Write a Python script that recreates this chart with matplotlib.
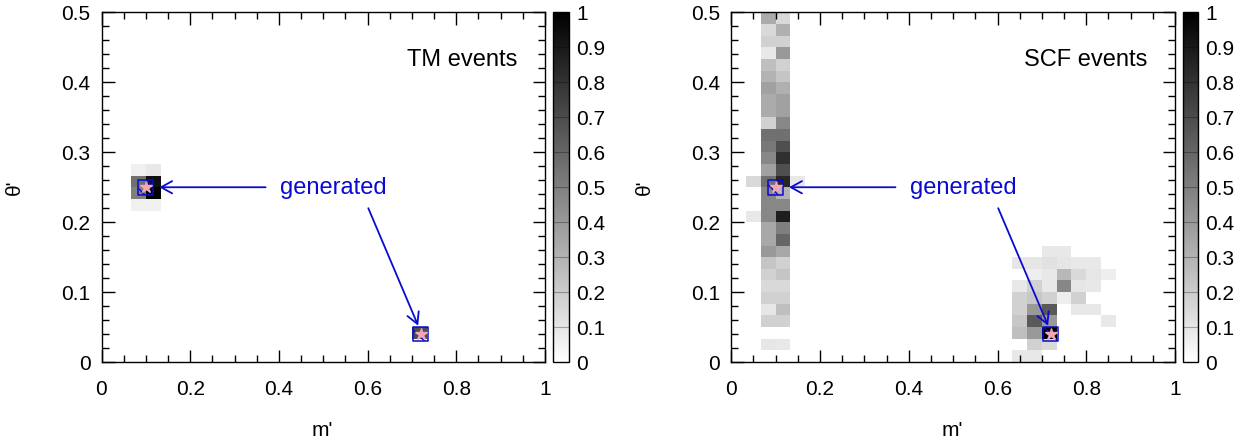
import numpy as np
import matplotlib
matplotlib.use("Agg")
import matplotlib.pyplot as plt
from matplotlib.patches import ArrowStyle

plt.rcParams['font.family'] = ['Liberation Sans', 'DejaVu Sans']
plt.rcParams['hatch.linewidth'] = 1.0
plt.rcParams['hatch.color'] = '#0000cc'

# ---------------- data ----------------
m_edges = np.linspace(0.0, 1.0, 31)
theta_edges = np.linspace(0.0, 0.5, 31)

# TM events: normalised bin contents (bin centres m', theta', value)
tm_m = [0.0833, 0.1167, 0.0833, 0.1167, 0.0833, 0.1167, 0.0833, 0.1167, 0.7167]
tm_theta = [0.275, 0.275, 0.2583, 0.2583, 0.2417, 0.2417, 0.225, 0.225, 0.0417]
tm_val = [0.06, 0.09, 0.56, 0.94, 0.50, 1.00, 0.06, 0.06, 0.70]

# SCF events: column near m'=0.1 (rows 0..29, two bins)
scf_col_theta = [(r + 0.5) / 60 for r in range(30)]
scf_col_a = [0.00, 0.10, 0.00, 0.18, 0.10, 0.18, 0.15, 0.18, 0.23, 0.40,
             0.34, 0.34, 0.47, 0.47, 0.47, 0.56, 0.37, 0.47, 0.53, 0.56,
             0.18, 0.33, 0.33, 0.37, 0.30, 0.25, 0.09, 0.18, 0.15, 0.33]
scf_col_b = [0.00, 0.09, 0.00, 0.18, 0.25, 0.18, 0.15, 0.23, 0.18, 0.34,
             0.60, 0.50, 0.88, 0.47, 0.30, 0.85, 0.69, 0.81, 0.69, 0.56,
             0.47, 0.37, 0.37, 0.31, 0.23, 0.18, 0.40, 0.18, 0.31, 0.15]
scf_col_m_a = 0.0833
scf_col_m_b = 0.1167
# SCF events: isolated bins
scf_m = [0.05, 0.15, 0.05,
         0.7167, 0.75,
         0.65, 0.6833, 0.7167, 0.75, 0.7833, 0.8167,
         0.6833, 0.7167, 0.75, 0.7833, 0.8167, 0.85,
         0.65, 0.6833, 0.7167, 0.75, 0.7833, 0.8167,
         0.65, 0.6833, 0.7167, 0.75, 0.7833,
         0.65, 0.6833, 0.7167, 0.7833, 0.8167,
         0.65, 0.6833, 0.7167, 0.85,
         0.65, 0.6833, 0.7167,
         0.6833, 0.7167,
         0.65, 0.6833]
scf_theta = [0.2583, 0.2583, 0.2083,
             0.1583, 0.1583,
             0.1417, 0.1417, 0.1417, 0.1417, 0.1417, 0.1417,
             0.125, 0.125, 0.125, 0.125, 0.125, 0.125,
             0.1083, 0.1083, 0.1083, 0.1083, 0.1083, 0.1083,
             0.0917, 0.0917, 0.0917, 0.0917, 0.0917,
             0.075, 0.075, 0.075, 0.075, 0.075,
             0.0583, 0.0583, 0.0583, 0.0583,
             0.0417, 0.0417, 0.0417,
             0.025, 0.025,
             0.0083, 0.0083]
scf_val = [0.15, 0.09, 0.09,
           0.09, 0.09,
           0.10, 0.10, 0.12, 0.10, 0.09, 0.09,
           0.07, 0.09, 0.28, 0.15, 0.10, 0.07,
           0.09, 0.18, 0.09, 0.47, 0.10, 0.09,
           0.18, 0.22, 0.18, 0.07, 0.18,
           0.18, 0.40, 0.65, 0.09, 0.09,
           0.22, 0.65, 0.40, 0.09,
           0.25, 0.40, 1.00,
           0.18, 0.15,
           0.09, 0.09]

# generated points
gen_m = [0.10, 0.72]
gen_theta = [0.25, 0.04]

panel_titles = ['TM events', 'SCF events']
cbar_ticks = [0, 0.1, 0.2, 0.3, 0.4, 0.5, 0.6, 0.7, 0.8, 0.9, 1.0]
cbar_labels = ['0', '0.1', '0.2', '0.3', '0.4', '0.5', '0.6', '0.7', '0.8', '0.9', '1']

# ---------------- build grids ----------------
H_tm, _, _ = np.histogram2d(tm_m, tm_theta, bins=[m_edges, theta_edges], weights=tm_val)
all_m = scf_m + [scf_col_m_a] * 30 + [scf_col_m_b] * 30
all_t = scf_theta + scf_col_theta + scf_col_theta
all_v = scf_val + scf_col_a + scf_col_b
H_scf, _, _ = np.histogram2d(all_m, all_t, bins=[m_edges, theta_edges], weights=all_v)

# ---------------- figure ----------------
fig = plt.figure(figsize=(12.46, 4.44), dpi=100)
W, Hh = 1246.0, 444.0
axes_px = [(101.5, 545.0), (731.3, 1175.0)]
cbar_px = [(553.3, 569.3), (1182.7, 1198.3)]
y_top, y_bot = 12.5, 362.0

blue = '#0a0ad2'
arrow_style = ArrowStyle('->', head_length=0.4, head_width=0.22)

for k, (H, title) in enumerate(zip([H_tm, H_scf], panel_titles)):
    x0, x1 = axes_px[k]
    ax = fig.add_axes([x0 / W, 1 - y_bot / Hh, (x1 - x0) / W, (y_bot - y_top) / Hh])
    mesh = ax.pcolormesh(m_edges, theta_edges, H.T, cmap='gray_r', vmin=0, vmax=1,
                         shading='flat')
    ax.set_xlim(0, 1)
    ax.set_ylim(0, 0.5)
    ax.set_xticks(np.arange(0, 1.01, 0.2))
    ax.set_xticks(np.arange(0, 1.001, 0.05), minor=True)
    ax.set_yticks(np.arange(0, 0.501, 0.1))
    ax.set_yticks(np.arange(0, 0.501, 0.02), minor=True)
    ax.set_xticklabels(['0', '0.2', '0.4', '0.6', '0.8', '1'])
    ax.set_yticklabels(['0', '0.1', '0.2', '0.3', '0.4', '0.5'])
    ax.tick_params(which='both', direction='in', top=True, right=True,
                   labelsize=15, width=1.0, color='black')
    ax.tick_params(which='major', length=9)
    ax.tick_params(which='minor', length=4.8)
    ax.tick_params(axis='x', which='major', pad=13)
    ax.tick_params(axis='y', which='major', pad=8)
    for s in ax.spines.values():
        s.set_linewidth(1.0)

    ax.set_xlabel("m'", fontsize=15)
    ax.xaxis.set_label_coords(0.497, -0.197)
    ax.xaxis.label.set_verticalalignment('center')
    ax.set_ylabel("θ'", fontsize=15)
    ax.yaxis.set_label_coords(-0.196, 0.5)
    ax.yaxis.label.set_verticalalignment('center')

    ax.text(0.937, 0.432, title, ha='right', va='center', fontsize=17)

    # generated markers
    ax.scatter(gen_m, gen_theta, marker='s', s=10.6 ** 2, facecolors='none',
               edgecolors=blue, linewidths=1.1, hatch='\\\\', zorder=4)
    ax.plot(gen_m, gen_theta, linestyle='none', marker='*', markersize=9,
            color='#f4a6b6', markeredgecolor='#f4a6b6', zorder=5)

    # annotation
    ax.text(0.5236, 0.249, 'generated', color=blue, fontsize=17, ha='center', va='center')
    ax.annotate('', xy=(0.13, 0.25), xytext=(0.37, 0.25),
                arrowprops=dict(arrowstyle=arrow_style, color=blue, lw=1.3,
                                shrinkA=0, shrinkB=0, mutation_scale=20), zorder=6)
    ax.annotate('', xy=(0.714, 0.052), xytext=(0.6016, 0.22),
                arrowprops=dict(arrowstyle=arrow_style, color=blue, lw=1.3,
                                shrinkA=0, shrinkB=0, mutation_scale=20), zorder=6)

    # colorbar
    c0, c1 = cbar_px[k]
    cax = fig.add_axes([c0 / W, 1 - y_bot / Hh, (c1 - c0) / W, (y_bot - y_top) / Hh])
    cb = fig.colorbar(mesh, cax=cax)
    cb.set_ticks(cbar_ticks)
    cb.set_ticklabels(cbar_labels)
    cb.ax.tick_params(length=0, labelsize=15, pad=5)
    cb.outline.set_linewidth(1.0)
    for t in cbar_ticks[1:-1]:
        cax.axhline(t, color='black', alpha=0.3, lw=0.8)

fig.savefig('out.png', dpi=100)
